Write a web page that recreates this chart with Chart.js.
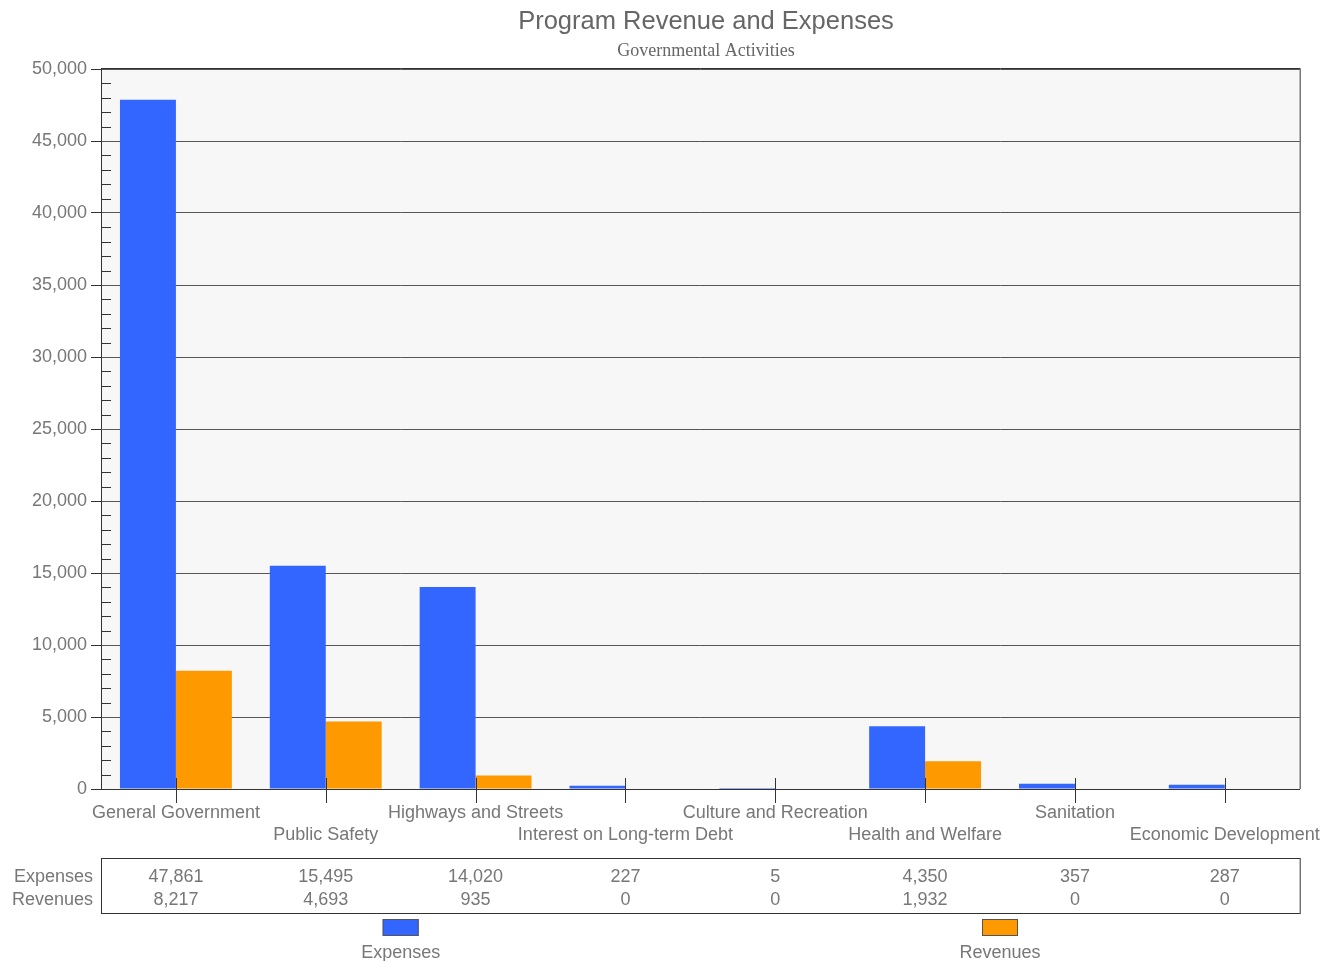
<!DOCTYPE html>
<html>
<head>
<meta charset="utf-8">
<title>Program Revenue and Expenses</title>
<script src="https://cdn.jsdelivr.net/npm/chart.js@4/dist/chart.umd.min.js"></script>
<style>
  html, body { margin: 0; padding: 0; background: #fff; }
  canvas { display: block; }
</style>
</head>
<body>
<canvas id="chart" width="1335" height="961"></canvas>
<script>
// data
const categories = [
  'General Government', 'Public Safety', 'Highways and Streets', 'Interest on Long-term Debt',
  'Culture and Recreation', 'Health and Welfare', 'Sanitation', 'Economic Development'
];
const expenses = [47861, 15495, 14020, 227, 5, 4350, 357, 287];
const revenues = [8217, 4693, 935, 0, 0, 1932, 0, 0];
const yTicks = { min: 0, max: 50000, step: 5000, minor: 1000 };

const TEXT = '#777';
const LINE = '#333';
const FONT = '"Liberation Sans", Arial, sans-serif';
const COLORS = { expenses: '#3366ff', revenues: '#ff9900' };

const fmt = n => n.toLocaleString('en-US');

// chart furniture: plot background, frame, minor ticks, title, data table, legend
const furniture = {
  id: 'furniture',
  beforeDraw(chart) {
    const { ctx, chartArea: a } = chart;
    ctx.save();
    ctx.fillStyle = '#f7f7f7';
    ctx.fillRect(a.left, a.top, a.right - a.left, a.bottom - a.top);
    ctx.restore();
  },
  afterDraw(chart) {
    const { ctx, chartArea: a, scales: { x, y } } = chart;
    ctx.save();
    ctx.strokeStyle = LINE;
    ctx.lineWidth = 1;

    // frame top / right
    ctx.beginPath();
    ctx.moveTo(a.left, a.top - 0.5);
    ctx.lineTo(a.right + 0.5, a.top - 0.5);
    ctx.lineTo(a.right + 0.5, a.bottom);
    ctx.stroke();

    // minor ticks on the y axis
    ctx.beginPath();
    for (let v = yTicks.min + yTicks.minor; v < yTicks.max; v += yTicks.minor) {
      if (v % yTicks.step === 0) continue;
      const py = Math.round(y.getPixelForValue(v)) + 0.5;
      ctx.moveTo(a.left, py);
      ctx.lineTo(a.left + 10, py);
    }
    // category tick marks crossing the x axis
    categories.forEach((c, i) => {
      const px = Math.round(x.getPixelForValue(i)) + 0.5;
      ctx.moveTo(px, a.bottom - 11);
      ctx.lineTo(px, a.bottom + 14);
    });
    ctx.stroke();

    // title + subtitle
    const cx = 706;
    ctx.textAlign = 'center';
    ctx.textBaseline = 'middle';
    ctx.fillStyle = '#666';
    ctx.font = '25.5px ' + FONT;
    ctx.fillText('Program Revenue and Expenses', cx, 22);
    ctx.font = '18px "Liberation Serif", "Times New Roman", serif';
    ctx.fillText('Governmental Activities', cx, 51);

    // data table
    const tTop = 858, tBot = 913;
    ctx.strokeRect(a.left + 0.5, tTop + 0.5, a.right - a.left, tBot - tTop);
    ctx.font = '18px ' + FONT;
    ctx.fillStyle = TEXT;
    const rows = [['Expenses', expenses, 877], ['Revenues', revenues, 900]];
    rows.forEach(([name, vals, ry]) => {
      ctx.textAlign = 'right';
      ctx.fillText(name, a.left - 8, ry);
      ctx.textAlign = 'center';
      vals.forEach((v, i) => ctx.fillText(fmt(v), x.getPixelForValue(i), ry));
    });

    // legend
    const half = (a.right - a.left) / 2;
    chart.data.datasets.forEach((ds, i) => {
      const lx = a.left + half * i + half / 2;
      ctx.fillStyle = ds.backgroundColor;
      ctx.fillRect(lx - 18, 919, 36, 17);
      ctx.strokeStyle = '#555';
      ctx.strokeRect(lx - 17.5, 919.5, 35, 16);
      ctx.fillStyle = TEXT;
      ctx.textAlign = 'center';
      ctx.fillText(ds.label, lx, 953);
    });
    ctx.restore();
  }
};

Chart.defaults.font.family = FONT;
Chart.defaults.font.size = 18;
Chart.defaults.color = TEXT;

new Chart(document.getElementById('chart'), {
  type: 'bar',
  data: {
    labels: categories,
    datasets: [
      { label: 'Expenses', data: expenses, backgroundColor: COLORS.expenses },
      { label: 'Revenues', data: revenues, backgroundColor: COLORS.revenues }
    ]
  },
  options: {
    responsive: false,
    animation: false,
    categoryPercentage: 112 / 150,
    barPercentage: 1,
    layout: { padding: { top: 69, left: 0, right: 35, bottom: 112 } },
    plugins: { legend: { display: false }, tooltip: { enabled: false } },
    scales: {
      x: {
        afterFit: s => { s.height = 60; },
        grid: { display: false, drawTicks: false },
        border: { display: true, color: LINE },
        ticks: {
          padding: 13,
          autoSkip: false,
          maxRotation: 0,
          font: { size: 18, lineHeight: '22px' },
          callback: (v, i) => i % 2 ? ['', categories[i]] : categories[i]
        }
      },
      y: {
        min: yTicks.min,
        max: yTicks.max,
        afterFit: s => { s.width = 101; },
        grid: { color: '#555', tickLength: 10, tickColor: LINE },
        border: { display: true, color: LINE },
        ticks: { stepSize: yTicks.step, padding: 4, callback: v => fmt(v) }
      }
    }
  },
  plugins: [furniture]
});
</script>
</body>
</html>
